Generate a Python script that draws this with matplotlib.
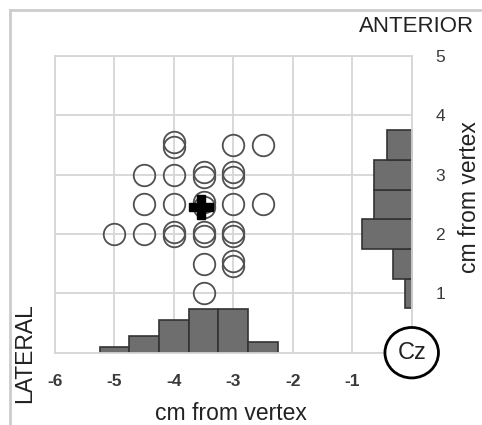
import matplotlib
matplotlib.use("Agg")
import matplotlib.pyplot as plt
from matplotlib.patches import Ellipse
import numpy as np

plt.rcParams['font.family'] = ['Liberation Sans', 'DejaVu Sans']

# Individual stimulation sites (cm from vertex); duplicates slightly offset
pts_x = [-4.0, -4.0, -3.0, -2.5,
         -4.5, -4.0, -3.5, -3.5, -3.0, -3.0,
         -4.5, -4.0, -3.5, -3.5, -3.0, -2.5,
         -5.0, -4.5, -4.0, -4.0, -3.5, -3.5, -3.0, -3.0,
         -3.5, -3.0, -3.0,
         -3.5]
pts_y = [3.46, 3.55, 3.5, 3.5,
         3.0, 3.0, 2.96, 3.04, 2.96, 3.04,
         2.5, 2.5, 2.46, 2.54, 2.5, 2.5,
         2.0, 2.0, 1.96, 2.04, 1.96, 2.04, 1.96, 2.04,
         1.5, 1.46, 1.55,
         1.0]

# Group mean
mean_x = -3.55
mean_y = 2.45

# Histogram of lateral coordinates
hx_centers = [-5.0, -4.5, -4.0, -3.5, -3.0, -2.5]
hx_counts = [1, 3, 6, 8, 8, 2]

# Histogram of anterior coordinates
hy_centers = [1.0, 1.5, 2.0, 2.5, 3.0, 3.5]
hy_counts = [1, 3, 8, 6, 6, 4]

xticks = [-6, -5, -4, -3, -2, -1]
yticks = [1, 2, 3, 4, 5]

fig = plt.figure(figsize=(4.82, 4.25), dpi=100)
ax = fig.add_axes([55/482, 1-352.7/425, (411.7-55)/482, (352.7-56)/425])
ax.set_xlim(-6, 0)
ax.set_ylim(0, 5)

gridc = '#d6d6d6'
ax.set_xticks(xticks + [0])
ax.set_yticks([0] + yticks)
ax.grid(True, color=gridc, linewidth=1.3)
for s in ax.spines.values():
    s.set_color(gridc)
    s.set_linewidth(1.3)
ax.set_axisbelow(True)

ax.set_xticklabels([str(t) for t in xticks] + [''])
ax.set_yticklabels([''] + [str(t) for t in yticks])
ax.tick_params(axis='both', length=0, labelsize=12.5, colors='#3a3a3a')
for lab in ax.get_xticklabels() + ax.get_yticklabels():
    lab.set_fontweight('bold')
ax.tick_params(axis='x', pad=15)
ax.yaxis.tick_right()
ax.tick_params(axis='y', pad=17)

barc = '#6e6e6e'
edgec = '#333333'
sx = 0.092
ax.bar(hx_centers, np.array(hx_counts) * sx, width=0.5, bottom=0,
       color=barc, edgecolor=edgec, linewidth=1.2, zorder=2)
sy = 0.105
ax.barh(hy_centers, -np.array(hy_counts) * sy, height=0.5, left=0,
        color=barc, edgecolor=edgec, linewidth=1.2, zorder=2, clip_on=False)

ax.plot(pts_x, pts_y, linestyle='none', marker='o', markersize=15.5,
        markerfacecolor='none', markeredgecolor='#505050', markeredgewidth=1.3,
        zorder=3)
ax.plot([mean_x], [mean_y], linestyle='none', marker='P', markersize=17,
        color='black', markeredgecolor='black', zorder=4)

cz = Ellipse((0, 0), 0.9, 0.85, facecolor='white', edgecolor='black',
             linewidth=2, zorder=5, clip_on=False)
ax.add_patch(cz)
ax.text(0, -0.01, 'Cz', ha='center', va='center', fontsize=17, zorder=6,
        color='#222222')

fig.text(417/482, 1-26.5/425, 'ANTERIOR', ha='center', va='center',
         fontsize=16, color='#222222')
fig.text(231/482, 1-413/425, 'cm from vertex', ha='center', va='center',
         fontsize=16.5, color='#222222')
fig.text(470/482, 1-197/425, 'cm from vertex', ha='center', va='center',
         rotation=90, fontsize=16.5, color='#222222')
fig.text(25/482, 1-353/425, 'LATERAL', ha='center', va='center',
         rotation=90, fontsize=16.5, color='#222222')

# light frame on left/top edges of the figure
fig.add_artist(plt.Line2D([10/482, 10/482], [0, 1-10/425], color='#cccccc',
                          linewidth=2, transform=fig.transFigure))
fig.add_artist(plt.Line2D([10/482, 1], [1-10/425, 1-10/425], color='#cccccc',
                          linewidth=2, transform=fig.transFigure))

fig.savefig('out.png', dpi=100)
